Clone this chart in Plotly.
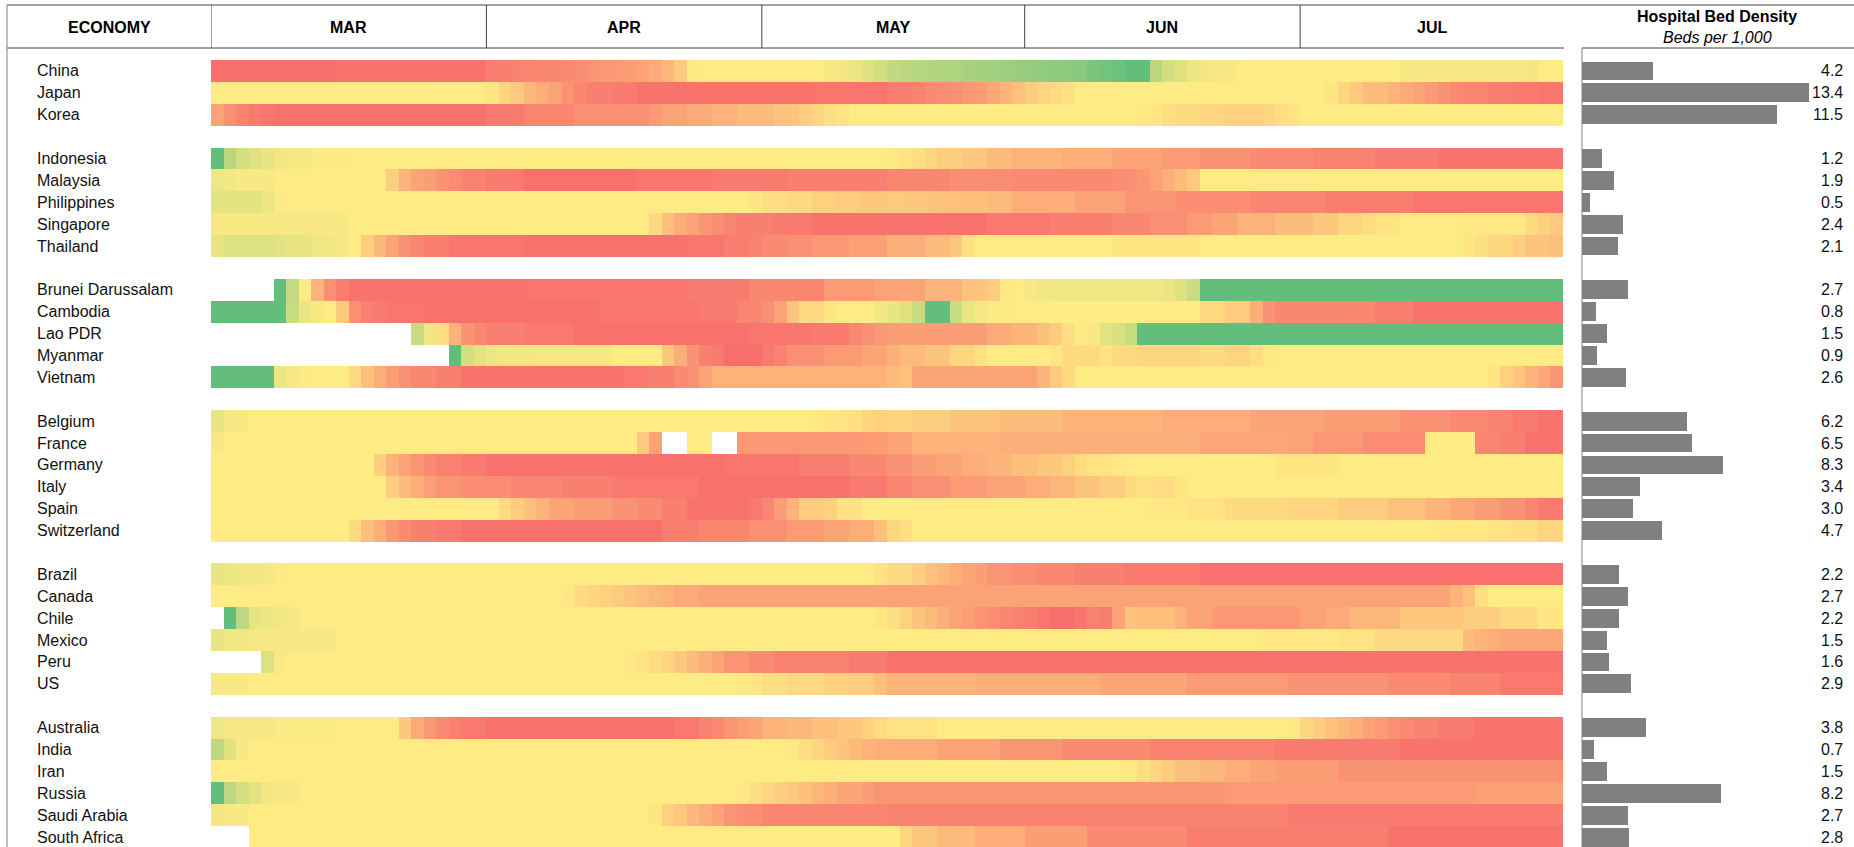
import pandas as pd
import plotly.graph_objects as go

# ---- data ----
MONTHS = ["MAR", "APR", "MAY", "JUN", "JUL"]
DAYS = [d.strftime("%Y-%m-%d") for d in pd.bdate_range("2020-03-02", "2020-07-29")]

GROUPS = [
    ["China", "Japan", "Korea"],
    ["Indonesia", "Malaysia", "Philippines", "Singapore", "Thailand"],
    ["Brunei Darussalam", "Cambodia", "Lao PDR", "Myanmar", "Vietnam"],
    ["Belgium", "France", "Germany", "Italy", "Spain", "Switzerland"],
    ["Brazil", "Canada", "Chile", "Mexico", "Peru", "US"],
    ["Australia", "India", "Iran", "Russia", "Saudi Arabia", "South Africa"],
]

# hospital beds per 1,000, same order as GROUPS flattened
BEDS = [4.2, 13.4, 11.5,
        1.2, 1.9, 0.5, 2.4, 2.1,
        2.7, 0.8, 1.5, 0.9, 2.6,
        6.2, 6.5, 8.3, 3.4, 3.0, 4.7,
        2.2, 2.7, 2.2, 1.5, 1.6, 2.9,
        3.8, 0.7, 1.5, 8.2, 2.7, 2.8]

N = None
# heat score per business day (0 = green, 50 = yellow, 100 = red)
CHINA = [98, 98, 98, 98, 98, 98, 98, 98, 98, 98,
         97, 97, 97, 97, 97, 97, 97, 96, 96, 96,
         96, 96, 92, 91, 90, 89, 88, 88, 87, 86,
         84, 82, 81, 80, 78, 75, 70, 63, 51, 50,
         50, 50, 50, 50, 50, 50, 50, 50, 50, 47,
         46, 43, 40, 36, 30, 28, 27, 25, 24, 24,
         22, 21, 20, 18, 17, 16, 15, 14, 13, 12,
         8, 5, 3, 0, 0, 28, 36, 40, 44, 46,
         47, 48, 50, 50, 50, 50, 50, 50, 50, 50,
         50, 50, 50, 50, 50, 47, 47, 47, 47, 47,
         47, 47, 47, 47, 47, 46, 50, 50]
JAPAN = [50, 50, 50, 50, 50, 50, 50, 50, 50, 50,
         50, 50, 50, 50, 50, 50, 50, 50, 50, 50,
         50, 50, 52, 58, 63, 70, 74, 78, 84, 88,
         91, 91, 93, 93, 96, 96, 96, 96, 96, 96,
         96, 96, 96, 96, 96, 96, 96, 96, 95, 95,
         95, 95, 95, 95, 92, 91, 90, 87, 86, 85,
         82, 80, 76, 71, 66, 62, 59, 56, 54, 50,
         50, 50, 50, 50, 50, 50, 50, 50, 50, 50,
         50, 50, 50, 50, 50, 50, 50, 50, 50, 52,
         58, 63, 68, 68, 71, 75, 78, 81, 84, 87,
         89, 89, 91, 91, 93, 93, 95, 95]
KOREA = [78, 85, 90, 93, 95, 97, 97, 97, 97, 97,
         97, 97, 97, 97, 97, 97, 97, 97, 97, 97,
         97, 97, 93, 93, 93, 89, 89, 89, 89, 85,
         85, 85, 85, 85, 85, 81, 78, 78, 75, 75,
         72, 72, 68, 68, 68, 65, 65, 62, 58, 55,
         53, 50, 50, 50, 50, 50, 50, 50, 50, 50,
         50, 50, 50, 50, 50, 50, 50, 50, 50, 50,
         50, 50, 50, 50, 51, 52, 55, 56, 56, 58,
         58, 60, 60, 60, 58, 55, 53, 50, 50, 50,
         50, 50, 50, 50, 50, 50, 50, 50, 50, 50,
         50, 50, 50, 50, 50, 50, 50, 50]
INDONESIA = [0, 28, 36, 40, 43, 46, 47, 47, 49, 49,
             49, 50, 50, 50, 50, 50, 50, 50, 50, 50,
             50, 50, 50, 50, 50, 50, 50, 50, 50, 50,
             50, 50, 50, 50, 50, 50, 50, 50, 50, 50,
             50, 50, 50, 50, 50, 50, 50, 50, 50, 50,
             50, 50, 50, 50, 51, 53, 55, 58, 61, 61,
             64, 64, 68, 68, 71, 71, 71, 71, 74, 74,
             74, 74, 78, 78, 78, 78, 81, 81, 81, 84,
             84, 84, 84, 87, 87, 87, 87, 87, 90, 90,
             90, 90, 90, 93, 93, 93, 93, 93, 96, 96,
             96, 96, 96, 96, 96, 96, 96, 96]
MALAYSIA = [45, 46, 48, 48, 48, 50, 50, 50, 50, 50,
            50, 50, 50, 50, 61, 71, 77, 80, 84, 87,
            90, 90, 93, 93, 93, 97, 97, 97, 97, 97,
            97, 97, 97, 97, 95, 95, 95, 95, 95, 95,
            93, 93, 93, 93, 93, 93, 91, 91, 91, 91,
            91, 91, 91, 91, 88, 88, 88, 88, 88, 86,
            86, 86, 86, 86, 87, 87, 87, 87, 87, 87,
            87, 87, 86, 85, 82, 78, 73, 68, 63, 50,
            50, 50, 50, 50, 50, 50, 50, 50, 50, 50,
            50, 50, 50, 50, 50, 50, 50, 50, 50, 50,
            50, 50, 50, 50, 50, 50, 50, 50]
PHILIPPINES = [41, 41, 41, 41, 44, 49, 50, 50, 50, 50,
               50, 50, 50, 50, 50, 50, 50, 50, 50, 50,
               50, 50, 50, 50, 50, 50, 50, 50, 50, 50,
               50, 50, 50, 50, 50, 50, 50, 50, 50, 50,
               50, 50, 50, 52, 55, 55, 57, 57, 60, 60,
               62, 62, 64, 64, 63, 64, 64, 65, 66, 66,
               67, 67, 69, 69, 74, 74, 74, 74, 74, 78,
               78, 78, 78, 83, 83, 83, 83, 86, 86, 86,
               86, 86, 86, 89, 89, 89, 89, 89, 89, 92,
               92, 92, 92, 92, 92, 92, 95, 95, 95, 95,
               95, 95, 95, 95, 95, 95, 95, 95]
SINGAPORE = [48, 48, 48, 48, 48, 48, 48, 48, 48, 48,
             48, 50, 50, 50, 50, 50, 50, 50, 50, 50,
             50, 50, 50, 50, 50, 50, 50, 50, 50, 50,
             50, 50, 50, 50, 50, 57, 67, 74, 78, 83,
             86, 89, 91, 91, 91, 93, 93, 93, 96, 96,
             96, 96, 96, 96, 97, 97, 97, 97, 97, 97,
             97, 97, 94, 94, 94, 94, 94, 91, 91, 91,
             91, 91, 88, 88, 88, 85, 85, 85, 81, 81,
             77, 77, 72, 72, 72, 68, 68, 68, 64, 64,
             58, 58, 55, 53, 53, 50, 50, 50, 50, 50,
             51, 51, 51, 51, 51, 56, 60, 63]
THAILAND = [42, 39, 39, 39, 39, 41, 43, 43, 45, 46,
            48, 50, 61, 70, 77, 85, 88, 92, 92, 95,
            95, 95, 95, 95, 95, 97, 97, 97, 97, 97,
            97, 97, 97, 97, 97, 97, 97, 97, 95, 95,
            95, 92, 92, 90, 87, 87, 85, 85, 82, 82,
            82, 79, 79, 79, 73, 73, 73, 69, 69, 64,
            54, 50, 50, 50, 50, 50, 50, 50, 50, 50,
            50, 50, 52, 52, 52, 52, 52, 52, 52, 50,
            50, 50, 50, 50, 50, 50, 50, 50, 50, 50,
            50, 50, 50, 50, 50, 50, 50, 50, 50, 50,
            52, 55, 58, 58, 61, 65, 65, 67]
BRUNEI = [N, N, N, N, N, 0, 31, 50, 71, 85,
          92, 96, 96, 96, 96, 96, 96, 96, 96, 96,
          96, 96, 96, 96, 96, 95, 95, 95, 95, 95,
          95, 95, 95, 95, 95, 95, 95, 95, 93, 93,
          93, 93, 93, 88, 88, 88, 88, 88, 88, 81,
          81, 81, 81, 78, 77, 77, 77, 71, 71, 71,
          65, 65, 62, 51, 50, 48, 46, 45, 45, 45,
          45, 45, 45, 45, 45, 45, 43, 39, 33, 0,
          0, 0, 0, 0, 0, 0, 0, 0, 0, 0,
          0, 0, 0, 0, 0, 0, 0, 0, 0, 0,
          0, 0, 0, 0, 0, 0, 0, 0]
CAMBODIA = [0, 0, 0, 0, 0, 0, 32, 43, 47, 50,
            63, 85, 91, 93, 95, 95, 95, 97, 97, 97,
            97, 97, 97, 97, 97, 97, 97, 97, 97, 97,
            97, 95, 95, 95, 95, 95, 95, 95, 95, 93,
            93, 93, 89, 89, 85, 78, 65, 57, 57, 52,
            50, 50, 50, 46, 43, 40, 32, 0, 0, 32,
            43, 47, 49, 49, 50, 50, 50, 50, 50, 50,
            50, 50, 50, 50, 50, 50, 50, 50, 50, 57,
            57, 62, 62, 74, 84, 88, 88, 88, 88, 88,
            88, 88, 88, 92, 92, 92, 96, 96, 96, 96,
            96, 96, 96, 96, 96, 96, 96, 96]
LAO = [N, N, N, N, N, N, N, N, N, N,
       N, N, N, N, N, N, 32, 46, 55, 71,
       84, 88, 91, 91, 91, 94, 94, 94, 94, 97,
       97, 97, 97, 97, 97, 97, 97, 97, 97, 97,
       97, 97, 97, 95, 95, 95, 95, 95, 93, 93,
       93, 88, 85, 82, 80, 80, 80, 80, 80, 80,
       80, 80, 75, 75, 71, 71, 67, 62, 55, 50,
       47, 41, 38, 32, 0, 0, 0, 0, 0, 0,
       0, 0, 0, 0, 0, 0, 0, 0, 0, 0,
       0, 0, 0, 0, 0, 0, 0, 0, 0, 0,
       0, 0, 0, 0, 0, 0, 0, 0]
MYANMAR = [N, N, N, N, N, N, N, N, N, N,
           N, N, N, N, N, N, N, N, N, 0,
           36, 41, 44, 46, 46, 46, 47, 47, 47, 47,
           47, 47, 50, 50, 50, 50, 64, 74, 84, 91,
           93, 98, 98, 98, 93, 90, 85, 85, 85, 81,
           81, 81, 77, 77, 73, 69, 69, 65, 65, 58,
           58, 54, 50, 50, 50, 50, 50, 52, 56, 56,
           56, 53, 56, 56, 58, 58, 58, 58, 58, 56,
           56, 59, 59, 55, 51, 50, 50, 50, 50, 50,
           50, 50, 50, 50, 50, 50, 50, 50, 50, 50,
           50, 50, 50, 50, 50, 50, 50, 50]
VIETNAM = [0, 0, 0, 0, 0, 44, 47, 49, 50, 50,
           50, 57, 66, 74, 80, 85, 88, 88, 91, 91,
           96, 96, 96, 96, 96, 96, 96, 96, 96, 96,
           96, 96, 96, 94, 94, 91, 91, 87, 85, 78,
           72, 72, 72, 72, 72, 72, 72, 72, 72, 72,
           72, 72, 72, 72, 68, 66, 77, 77, 77, 77,
           77, 77, 77, 77, 77, 77, 71, 63, 56, 50,
           50, 50, 50, 50, 50, 50, 50, 50, 50, 50,
           50, 50, 50, 50, 50, 50, 50, 50, 50, 50,
           50, 50, 50, 50, 50, 50, 50, 50, 50, 50,
           50, 50, 52, 60, 65, 71, 76, 83]
BELGIUM = [43, 47, 48, 50, 50, 50, 50, 50, 50, 50,
           50, 50, 50, 50, 50, 50, 50, 50, 50, 50,
           50, 50, 50, 50, 50, 50, 50, 50, 50, 50,
           50, 50, 50, 50, 50, 50, 50, 50, 50, 50,
           50, 50, 50, 50, 50, 50, 50, 50, 51, 52,
           53, 55, 58, 60, 59, 59, 61, 61, 61, 65,
           65, 65, 65, 68, 68, 68, 68, 68, 71, 71,
           71, 71, 71, 71, 71, 71, 74, 74, 74, 74,
           74, 74, 74, 77, 77, 77, 77, 77, 77, 80,
           80, 80, 80, 80, 80, 84, 84, 84, 84, 87,
           87, 87, 90, 90, 93, 93, 96, 96]
FRANCE = [48, 50, 50, 50, 50, 50, 50, 50, 50, 50,
          50, 50, 50, 50, 50, 50, 50, 50, 50, 50,
          50, 50, 50, 50, 50, 50, 50, 50, 50, 50,
          50, 50, 50, 50, 63, 78, N, N, 50, 50,
          N, N, 82, 82, 82, 82, 82, 82, 82, 82,
          82, 82, 81, 80, 78, 78, 72, 72, 72, 72,
          72, 72, 72, 73, 73, 73, 73, 73, 73, 73,
          73, 73, 73, 73, 73, 73, 73, 73, 73, 76,
          76, 76, 76, 76, 76, 76, 78, 78, 82, 82,
          82, 82, 86, 86, 86, 86, 86, 50, 50, 50,
          50, 89, 89, 92, 92, 96, 96, 96]
GERMANY = [50, 50, 50, 50, 50, 50, 50, 50, 50, 50,
           50, 50, 50, 61, 72, 78, 83, 87, 90, 90,
           93, 93, 97, 97, 97, 97, 97, 97, 97, 97,
           97, 97, 97, 97, 97, 97, 97, 97, 97, 97,
           97, 95, 95, 95, 95, 95, 95, 92, 92, 92,
           92, 88, 88, 88, 84, 84, 80, 80, 77, 77,
           74, 74, 71, 71, 67, 67, 64, 64, 60, 56,
           53, 53, 51, 50, 50, 50, 50, 50, 50, 50,
           50, 50, 50, 50, 50, 52, 52, 52, 52, 52,
           50, 50, 50, 50, 50, 50, 50, 50, 50, 50,
           50, 50, 50, 50, 50, 50, 50, 50]
ITALY = [50, 50, 50, 50, 50, 50, 50, 50, 50, 50,
         50, 50, 50, 50, 61, 69, 74, 79, 83, 83,
         86, 86, 86, 86, 89, 89, 89, 89, 91, 91,
         91, 91, 94, 94, 94, 94, 94, 94, 94, 97,
         97, 97, 97, 97, 97, 97, 97, 97, 97, 97,
         97, 93, 93, 93, 89, 89, 85, 85, 85, 81,
         81, 81, 78, 78, 78, 74, 74, 70, 70, 65,
         65, 61, 61, 56, 54, 55, 56, 52, 50, 50,
         50, 50, 50, 50, 50, 50, 50, 50, 50, 50,
         50, 50, 50, 50, 50, 50, 50, 50, 50, 50,
         50, 50, 50, 50, 50, 50, 50, 50]
SPAIN = [50, 50, 50, 50, 50, 50, 50, 50, 50, 50,
         50, 50, 50, 50, 50, 50, 50, 50, 50, 50,
         50, 50, 50, 56, 62, 67, 72, 77, 77, 80,
         80, 80, 84, 84, 87, 87, 91, 91, 96, 96,
         96, 96, 96, 94, 89, 80, 71, 62, 62, 60,
         54, 54, 50, 50, 50, 50, 50, 50, 50, 50,
         50, 50, 50, 50, 50, 50, 50, 50, 50, 50,
         50, 50, 50, 50, 50, 51, 51, 51, 53, 53,
         53, 56, 56, 56, 56, 56, 59, 59, 59, 59,
         62, 62, 62, 62, 66, 66, 66, 71, 71, 76,
         76, 80, 80, 84, 84, 88, 93, 93]
SWITZERLAND = [50, 50, 50, 50, 50, 50, 50, 50, 50, 50,
               50, 56, 67, 74, 82, 87, 91, 91, 94, 94,
               97, 97, 97, 97, 97, 97, 97, 97, 97, 97,
               97, 97, 97, 97, 97, 97, 92, 92, 92, 89,
               89, 89, 89, 85, 85, 85, 81, 81, 81, 77,
               77, 74, 74, 66, 58, 55, 50, 50, 50, 50,
               50, 50, 50, 50, 50, 50, 50, 50, 50, 50,
               50, 50, 50, 50, 50, 50, 50, 50, 50, 50,
               50, 50, 50, 50, 50, 50, 50, 50, 50, 50,
               50, 50, 50, 50, 50, 50, 50, 50, 51, 51,
               51, 51, 53, 53, 55, 55, 59, 59]
BRAZIL = [43, 44, 46, 46, 47, 49, 50, 50, 50, 50,
          50, 50, 50, 50, 50, 50, 50, 50, 50, 50,
          50, 50, 50, 50, 50, 50, 50, 50, 50, 50,
          50, 50, 50, 50, 50, 50, 50, 50, 50, 50,
          50, 50, 50, 50, 50, 50, 50, 50, 50, 50,
          50, 50, 50, 53, 56, 56, 61, 66, 70, 74,
          77, 80, 83, 83, 86, 86, 88, 88, 88, 91,
          91, 91, 91, 94, 94, 94, 94, 94, 94, 97,
          97, 97, 97, 97, 97, 97, 97, 97, 97, 97,
          97, 97, 97, 97, 97, 97, 97, 97, 97, 97,
          97, 97, 97, 97, 97, 97, 97, 97]
CANADA = [50, 50, 50, 50, 50, 50, 50, 50, 50, 50,
          50, 50, 50, 50, 50, 50, 50, 50, 50, 50,
          50, 50, 50, 50, 50, 50, 50, 50, 52, 56,
          58, 60, 62, 65, 67, 70, 72, 75, 75, 78,
          78, 78, 78, 78, 78, 78, 78, 78, 78, 78,
          78, 78, 78, 78, 78, 78, 78, 78, 78, 78,
          78, 78, 78, 78, 78, 78, 78, 78, 78, 78,
          78, 78, 78, 78, 78, 78, 78, 78, 78, 78,
          78, 78, 78, 78, 78, 78, 78, 78, 78, 78,
          78, 78, 78, 78, 78, 78, 78, 78, 78, 72,
          66, 55, 50, 50, 50, 50, 50, 50]
CHILE = [N, 0, 29, 42, 44, 46, 47, 50, 50, 50,
         50, 50, 50, 50, 50, 50, 50, 50, 50, 50,
         50, 50, 50, 50, 50, 50, 50, 50, 50, 50,
         50, 50, 50, 50, 50, 50, 50, 50, 50, 50,
         50, 50, 50, 50, 50, 50, 50, 50, 50, 50,
         50, 50, 50, 52, 55, 60, 65, 69, 73, 77,
         80, 83, 86, 88, 90, 92, 95, 98, 98, 95,
         90, 92, 78, 65, 67, 67, 67, 72, 77, 77,
         82, 82, 82, 82, 82, 82, 82, 78, 78, 75,
         75, 70, 70, 70, 70, 64, 64, 64, 64, 64,
         61, 61, 61, 56, 56, 56, 52, 52]
MEXICO = [43, 45, 45, 47, 47, 47, 48, 48, 48, 48,
          50, 50, 50, 50, 50, 50, 50, 50, 50, 50,
          50, 50, 50, 50, 50, 50, 50, 50, 50, 50,
          50, 50, 50, 50, 50, 50, 50, 50, 50, 50,
          50, 50, 50, 50, 50, 50, 50, 50, 50, 50,
          50, 50, 50, 50, 50, 50, 50, 50, 50, 50,
          50, 50, 50, 50, 50, 50, 50, 50, 50, 50,
          50, 50, 50, 50, 50, 50, 50, 50, 50, 50,
          50, 50, 50, 50, 51, 51, 51, 51, 51, 51,
          53, 53, 53, 57, 57, 57, 57, 57, 57, 57,
          68, 71, 74, 76, 76, 76, 76, 76]
PERU = [N, N, N, N, 39, 48, 50, 50, 50, 50,
        50, 50, 50, 50, 50, 50, 50, 50, 50, 50,
        50, 50, 50, 50, 50, 50, 50, 50, 50, 50,
        50, 50, 50, 51, 53, 56, 59, 63, 69, 73,
        77, 83, 83, 87, 87, 90, 90, 90, 90, 90,
        90, 93, 93, 93, 97, 97, 97, 97, 97, 97,
        97, 97, 97, 97, 97, 97, 97, 97, 97, 97,
        97, 97, 97, 97, 97, 97, 97, 97, 97, 97,
        97, 97, 97, 97, 97, 97, 97, 97, 97, 97,
        97, 97, 97, 97, 97, 97, 97, 97, 97, 97,
        97, 97, 97, 97, 97, 97, 97, 97]
US = [48, 48, 48, 50, 50, 50, 50, 50, 50, 50,
      50, 50, 50, 50, 50, 50, 50, 50, 50, 50,
      50, 50, 50, 50, 50, 50, 50, 50, 50, 50,
      50, 50, 50, 50, 50, 50, 50, 50, 50, 50,
      50, 50, 51, 52, 55, 55, 57, 57, 57, 60,
      60, 62, 62, 67, 71, 71, 71, 71, 71, 71,
      71, 74, 74, 74, 74, 74, 74, 74, 74, 74,
      74, 77, 77, 77, 77, 77, 77, 77, 81, 81,
      81, 81, 81, 81, 81, 81, 84, 84, 84, 84,
      84, 84, 84, 84, 87, 87, 87, 87, 87, 90,
      90, 90, 90, 94, 94, 94, 94, 94]
AUSTRALIA = [45, 47, 47, 47, 47, 49, 49, 49, 49, 49,
             50, 50, 50, 50, 50, 64, 75, 82, 87, 91,
             94, 94, 97, 97, 97, 97, 97, 97, 97, 97,
             97, 97, 97, 97, 97, 97, 97, 94, 94, 90,
             87, 83, 80, 77, 72, 72, 70, 70, 67, 67,
             64, 64, 60, 56, 53, 53, 53, 53, 50, 50,
             50, 50, 50, 50, 50, 50, 50, 50, 50, 50,
             50, 50, 50, 50, 50, 50, 50, 50, 50, 50,
             50, 50, 50, 50, 50, 50, 51, 58, 62, 66,
             70, 74, 78, 81, 85, 87, 90, 90, 93, 93,
             93, 96, 96, 96, 96, 96, 96, 96]
INDIA = [29, 40, 48, 50, 50, 50, 50, 50, 50, 50,
         50, 50, 50, 50, 50, 50, 50, 50, 50, 50,
         50, 50, 50, 50, 50, 50, 50, 50, 50, 50,
         50, 50, 50, 50, 50, 50, 50, 50, 50, 50,
         50, 50, 50, 50, 50, 50, 51, 55, 58, 62,
         65, 69, 72, 74, 74, 74, 74, 74, 78, 78,
         78, 78, 78, 83, 83, 83, 83, 83, 87, 87,
         87, 87, 87, 87, 87, 90, 90, 90, 90, 90,
         90, 90, 90, 90, 90, 93, 93, 93, 93, 93,
         93, 93, 93, 93, 93, 96, 96, 96, 96, 96,
         96, 96, 96, 96, 96, 96, 96, 96]
IRAN = [50, 50, 50, 50, 50, 50, 50, 50, 50, 50,
        50, 50, 50, 50, 50, 50, 50, 50, 50, 50,
        50, 50, 50, 50, 50, 50, 50, 50, 50, 50,
        50, 50, 50, 50, 50, 50, 50, 50, 50, 50,
        50, 50, 50, 50, 50, 50, 50, 50, 50, 50,
        50, 50, 50, 50, 50, 50, 50, 50, 50, 50,
        50, 50, 50, 50, 50, 50, 50, 50, 50, 50,
        50, 50, 50, 51, 55, 58, 62, 67, 67, 70,
        70, 74, 74, 77, 77, 80, 80, 80, 80, 80,
        84, 84, 84, 84, 84, 84, 84, 84, 84, 84,
        84, 84, 84, 84, 84, 84, 84, 84]
RUSSIA = [0, 29, 36, 41, 46, 47, 47, 50, 50, 50,
          50, 50, 50, 50, 50, 50, 50, 50, 50, 50,
          50, 50, 50, 50, 50, 50, 50, 50, 50, 50,
          50, 50, 50, 50, 50, 50, 50, 50, 50, 50,
          50, 50, 51, 55, 58, 61, 64, 67, 70, 73,
          77, 77, 80, 83, 83, 83, 83, 83, 83, 83,
          83, 83, 83, 83, 83, 83, 83, 83, 83, 83,
          83, 83, 83, 83, 83, 83, 83, 83, 83, 83,
          83, 81, 81, 81, 81, 81, 81, 81, 81, 81,
          81, 81, 81, 81, 81, 81, 81, 81, 81, 81,
          81, 79, 79, 79, 79, 79, 79, 79]
SAUDI = [46, 48, 48, 50, 50, 50, 50, 50, 50, 50,
         50, 50, 50, 50, 50, 50, 50, 50, 50, 50,
         50, 50, 50, 50, 50, 50, 50, 50, 50, 50,
         50, 50, 50, 50, 50, 52, 60, 64, 70, 74,
         78, 83, 86, 86, 89, 89, 89, 89, 89, 89,
         89, 89, 89, 89, 90, 90, 90, 90, 90, 90,
         90, 90, 90, 90, 90, 90, 90, 90, 90, 90,
         90, 90, 90, 90, 90, 90, 90, 90, 90, 90,
         90, 90, 90, 90, 90, 90, 93, 93, 93, 93,
         93, 93, 93, 93, 93, 93, 93, 93, 93, 93,
         93, 93, 93, 93, 93, 93, 93, 93]
SOUTH_AFRICA = [N, N, N, 50, 50, 50, 50, 50, 50, 50,
                50, 50, 50, 50, 50, 50, 50, 50, 50, 50,
                50, 50, 50, 50, 50, 50, 50, 50, 50, 50,
                50, 50, 50, 50, 50, 50, 50, 50, 50, 50,
                50, 50, 50, 50, 50, 50, 50, 50, 50, 50,
                50, 50, 50, 50, 50, 58, 64, 64, 69, 69,
                69, 74, 74, 74, 74, 80, 80, 80, 80, 80,
                87, 87, 87, 87, 87, 87, 87, 87, 92, 92,
                92, 92, 92, 92, 92, 92, 92, 92, 92, 92,
                92, 92, 92, 92, 96, 96, 96, 96, 96, 96,
                96, 96, 96, 96, 96, 96, 96, 96]

SERIES = [CHINA, JAPAN, KOREA,
          INDONESIA, MALAYSIA, PHILIPPINES, SINGAPORE, THAILAND,
          BRUNEI, CAMBODIA, LAO, MYANMAR, VIETNAM,
          BELGIUM, FRANCE, GERMANY, ITALY, SPAIN, SWITZERLAND,
          BRAZIL, CANADA, CHILE, MEXICO, PERU, US,
          AUSTRALIA, INDIA, IRAN, RUSSIA, SAUDI, SOUTH_AFRICA]

# ---- page geometry (pixels) ----
W, H = 1854, 847
HEAT_L, HEAT_R = 211, 1563
BAR_L, PX_PER_BED = 1582, 16.94
ROW_TOP, ROW_H = 60, 21.89
HEAD_T, HEAD_B = 5, 48
LEFT_EDGE = 7
FONT = "Liberation Sans, Arial, sans-serif"


def py(p):
    return 1 - p / H


def px(p):
    return p / W


# row positions with a blank row between groups
names, ypos, z = [], [], []
row = 0
k = 0
for gi, grp in enumerate(GROUPS):
    if gi > 0:
        z.append([None] * len(DAYS))
        row += 1
    for name in grp:
        names.append(name)
        ypos.append(row)
        z.append(SERIES[k])
        k += 1
        row += 1

y_bottom = (H - ROW_TOP) / ROW_H - 0.5

fig = go.Figure()
fig.add_trace(
    go.Heatmap(
        z=z,
        x=DAYS,
        y=list(range(len(z))),
        zmin=0,
        zmax=100,
        colorscale=[[0, "#63BE7B"], [0.5, "#FFEB84"], [1, "#F8696B"]],
        showscale=False,
        hoverongaps=False,
    )
)
fig.add_trace(
    go.Bar(
        x=BEDS,
        y=ypos,
        orientation="h",
        xaxis="x2",
        yaxis="y",
        width=0.86,
        marker=dict(color="#808080", line=dict(width=0)),
        hovertemplate="%{x}<extra></extra>",
    )
)

annotations = []
for name, yv, b in zip(names, ypos, BEDS):
    annotations.append(dict(x=px(35), y=yv, xref="paper", yref="y", text=name,
                            xanchor="left", yanchor="middle", showarrow=False,
                            font=dict(family=FONT, size=16, color="#111")))
    annotations.append(dict(x=px(1845), y=yv, xref="paper", yref="y", text=f"{b:.1f}",
                            xanchor="right", yanchor="middle", showarrow=False,
                            font=dict(family=FONT, size=16, color="#111")))

line_col = "#404040"
shapes = [
    dict(type="line", xref="paper", yref="paper", x0=px(LEFT_EDGE), x1=1,
         y0=py(HEAD_T), y1=py(HEAD_T), line=dict(color=line_col, width=1)),
    dict(type="line", xref="paper", yref="paper", x0=px(LEFT_EDGE), x1=px(HEAT_R + 1),
         y0=py(HEAD_B), y1=py(HEAD_B), line=dict(color=line_col, width=1)),
    dict(type="line", xref="paper", yref="paper", x0=px(BAR_L), x1=1,
         y0=py(HEAD_B), y1=py(HEAD_B), line=dict(color=line_col, width=1)),
    dict(type="line", xref="paper", yref="paper", x0=px(LEFT_EDGE), x1=px(LEFT_EDGE),
         y0=0, y1=py(HEAD_T), line=dict(color="#808080", width=1)),
    dict(type="line", xref="paper", yref="paper", x0=px(BAR_L), x1=px(BAR_L),
         y0=0, y1=py(HEAD_B), line=dict(color="#808080", width=1)),
]

annotations.append(dict(x=(px(LEFT_EDGE) + px(HEAT_L)) / 2, y=py(27), xref="paper", yref="paper",
                        text="<b>ECONOMY</b>", showarrow=False, xanchor="center", yanchor="middle",
                        font=dict(family=FONT, size=16, color="#000")))

# month header cells from the day categories
month_idx = {}
for i, d in enumerate(DAYS):
    month_idx.setdefault(d[:7], []).append(i)
for label, (m, idx) in zip(MONTHS, month_idx.items()):
    first, last = idx[0], idx[-1]
    shapes.append(dict(type="line", xref="x", yref="paper", x0=first - 0.5, x1=first - 0.5,
                       y0=py(HEAD_B), y1=py(HEAD_T), line=dict(color=line_col, width=1)))
    annotations.append(dict(x=(first + last) / 2, y=py(27), xref="x", yref="paper",
                            text=f"<b>{label}</b>", showarrow=False, xanchor="center",
                            yanchor="middle", font=dict(family=FONT, size=16, color="#000")))

annotations.append(dict(x=px(1717), y=py(17), xref="paper", yref="paper",
                        text="<b>Hospital Bed Density</b>", showarrow=False,
                        xanchor="center", yanchor="middle",
                        font=dict(family=FONT, size=16, color="#000")))
annotations.append(dict(x=px(1717), y=py(37), xref="paper", yref="paper",
                        text="<i>Beds per 1,000</i>", showarrow=False,
                        xanchor="center", yanchor="middle",
                        font=dict(family=FONT, size=16, color="#000")))

bar_max = 14
fig.update_layout(
    width=W,
    height=H,
    margin=dict(l=0, r=0, t=0, b=0),
    paper_bgcolor="white",
    plot_bgcolor="rgba(0,0,0,0)",
    showlegend=False,
    xaxis=dict(domain=[px(HEAT_L), px(HEAT_R)], type="category", range=[-0.5, len(DAYS) - 0.5],
               visible=False, fixedrange=True),
    xaxis2=dict(domain=[px(BAR_L), px(BAR_L + bar_max * PX_PER_BED)], range=[0, bar_max],
                anchor="y", visible=False, fixedrange=True),
    yaxis=dict(domain=[0, py(ROW_TOP)], range=[y_bottom, -0.5], visible=False, fixedrange=True),
    annotations=annotations,
    shapes=shapes,
    bargap=0,
)

fig.write_html(
    "out.html",
    config={"displayModeBar": False},
    post_script="document.body.style.margin='0';document.body.style.overflow='hidden';",
)
